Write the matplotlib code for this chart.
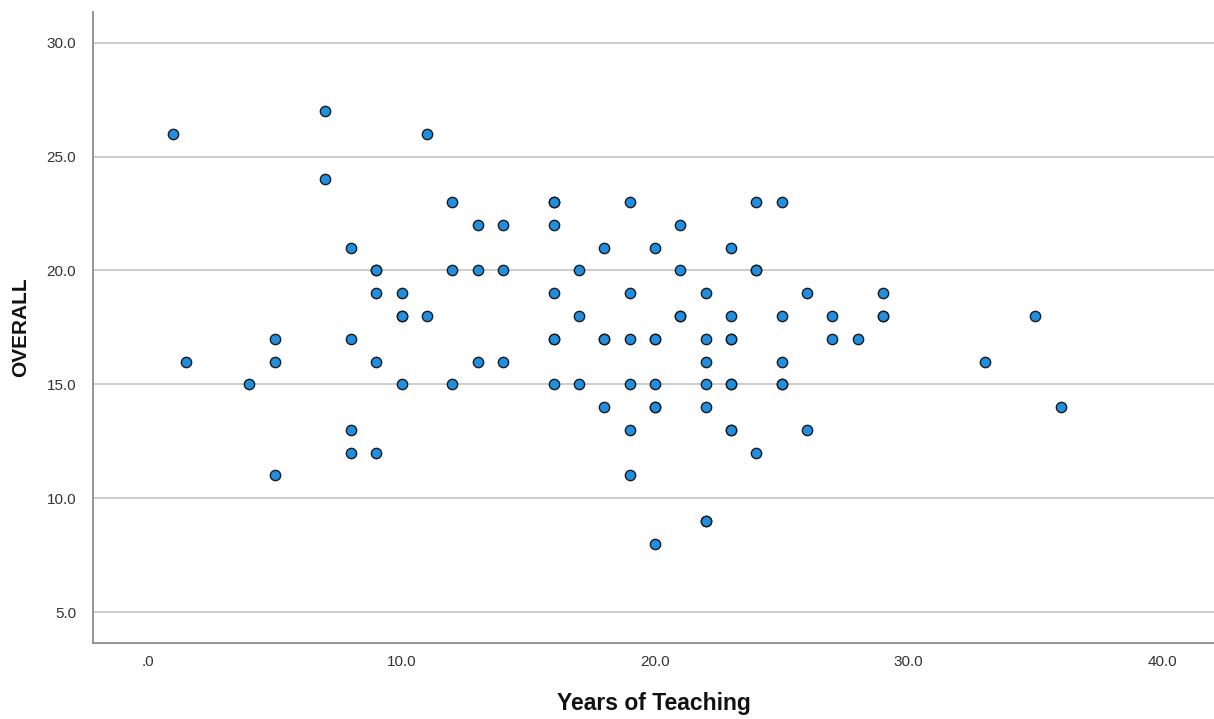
import matplotlib
matplotlib.use("Agg")
import matplotlib.pyplot as plt
from matplotlib.ticker import FuncFormatter

years = [1, 1.5, 4, 5, 5, 5, 7, 7, 8, 8, 8, 8, 9, 9, 9, 9, 9, 10, 10, 10, 10,
         11, 11, 12, 12, 12, 13, 13, 13, 14, 14, 14,
         16, 16, 16, 16, 16, 16, 16, 17, 17, 17, 18, 18, 18, 18,
         19, 19, 19, 19, 19, 19, 20, 20, 20, 20, 20, 20, 20,
         21, 21, 21, 21, 22, 22, 22, 22, 22, 22, 22,
         23, 23, 23, 23, 23, 23, 23, 23, 24, 24, 24, 24,
         25, 25, 25, 25, 25, 26, 26, 27, 27, 28, 29, 29, 29, 33, 35, 36]
overall = [26, 16, 15, 17, 16, 11, 27, 24, 21, 17, 13, 12, 20, 20, 19, 16, 12, 19, 18, 18, 15,
           26, 18, 23, 20, 15, 22, 20, 16, 22, 20, 16,
           23, 23, 22, 19, 17, 17, 15, 20, 18, 15, 21, 17, 17, 14,
           23, 19, 17, 15, 13, 11, 21, 17, 17, 15, 14, 14, 8,
           22, 20, 18, 18, 19, 17, 16, 15, 14, 9, 9,
           21, 18, 17, 17, 15, 15, 13, 13, 23, 20, 20, 12,
           23, 18, 16, 15, 15, 19, 13, 18, 17, 17, 19, 18, 18, 16, 18, 14]

x_ticks = [0, 10, 20, 30, 40]
y_ticks = [5, 10, 15, 20, 25, 30]

plt.rcParams['font.family'] = ['Liberation Sans', 'DejaVu Sans']

fig = plt.figure(figsize=(12.14, 7.19), dpi=100)
ax = fig.add_axes([93/1214, (719-643)/719, (1214-93)/1214, (643-12)/719])

ax.scatter(years, overall, s=55, facecolor='#1e8fe1', edgecolor='#1a1a1a',
           linewidth=1.0, zorder=3)

ax.set_xlim(-2.17, 42.05)
ax.set_ylim(3.64, 31.35)
ax.set_xticks(x_ticks)
ax.set_yticks(y_ticks)

def fmt(v, pos):
    s = f"{v:.1f}"
    if s.startswith("0."):
        s = s[1:]
    return s

ax.xaxis.set_major_formatter(FuncFormatter(fmt))
ax.yaxis.set_major_formatter(FuncFormatter(fmt))

ax.grid(axis='y', color='#c8c8c8', linewidth=1.3, zorder=0)
ax.set_axisbelow(True)
for side in ['top', 'right']:
    ax.spines[side].set_visible(False)
for side in ['left', 'bottom']:
    ax.spines[side].set_color('#8c8c8c')
    ax.spines[side].set_linewidth(1.3)
ax.tick_params(length=0, labelsize=11, colors='#333333')
ax.tick_params(axis='x', pad=9)
ax.tick_params(axis='y', pad=12)

ax.set_xlabel('Years of Teaching', fontsize=16.5, fontweight='bold', color='#111111', labelpad=16)
ax.set_ylabel('OVERALL', fontsize=15, fontweight='bold', color='#111111', labelpad=12)

fig.savefig('out.png', dpi=100, facecolor='white')
